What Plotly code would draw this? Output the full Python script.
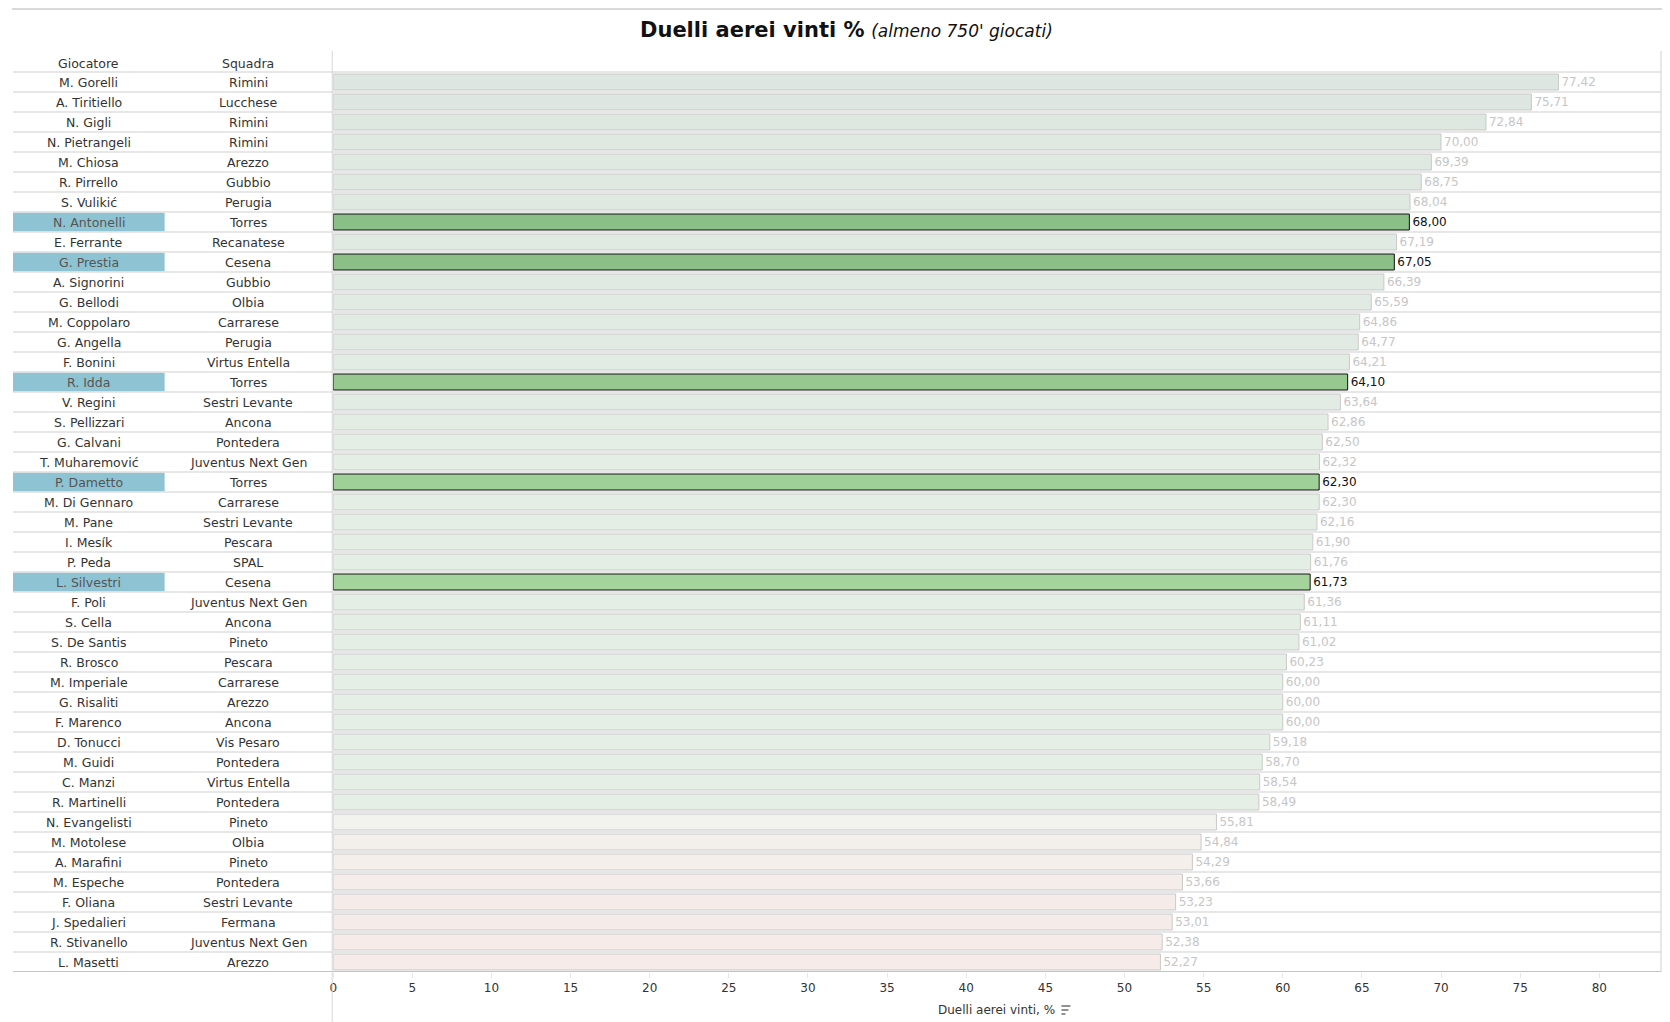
import plotly.graph_objects as go

# ---------------- data ----------------
players = [
    "M. Gorelli", "A. Tiritiello", "N. Gigli", "N. Pietrangeli", "M. Chiosa",
    "R. Pirrello", "S. Vulikić", "N. Antonelli", "E. Ferrante", "G. Prestia",
    "A. Signorini", "G. Bellodi", "M. Coppolaro", "G. Angella", "F. Bonini",
    "R. Idda", "V. Regini", "S. Pellizzari", "G. Calvani", "T. Muharemović",
    "P. Dametto", "M. Di Gennaro", "M. Pane", "I. Mesík", "P. Peda",
    "L. Silvestri", "F. Poli", "S. Cella", "S. De Santis", "R. Brosco",
    "M. Imperiale", "G. Risaliti", "F. Marenco", "D. Tonucci", "M. Guidi",
    "C. Manzi", "R. Martinelli", "N. Evangelisti", "M. Motolese", "A. Marafini",
    "M. Espeche", "F. Oliana", "J. Spedalieri", "R. Stivanello", "L. Masetti",
]
teams = [
    "Rimini", "Lucchese", "Rimini", "Rimini", "Arezzo",
    "Gubbio", "Perugia", "Torres", "Recanatese", "Cesena",
    "Gubbio", "Olbia", "Carrarese", "Perugia", "Virtus Entella",
    "Torres", "Sestri Levante", "Ancona", "Pontedera", "Juventus Next Gen",
    "Torres", "Carrarese", "Sestri Levante", "Pescara", "SPAL",
    "Cesena", "Juventus Next Gen", "Ancona", "Pineto", "Pescara",
    "Carrarese", "Arezzo", "Ancona", "Vis Pesaro", "Pontedera",
    "Virtus Entella", "Pontedera", "Pineto", "Olbia", "Pineto",
    "Pontedera", "Sestri Levante", "Fermana", "Juventus Next Gen", "Arezzo",
]
values = [
    77.42, 75.71, 72.84, 70.00, 69.39,
    68.75, 68.04, 68.00, 67.19, 67.05,
    66.39, 65.59, 64.86, 64.77, 64.21,
    64.10, 63.64, 62.86, 62.50, 62.32,
    62.30, 62.30, 62.16, 61.90, 61.76,
    61.73, 61.36, 61.11, 61.02, 60.23,
    60.00, 60.00, 60.00, 59.18, 58.70,
    58.54, 58.49, 55.81, 54.84, 54.29,
    53.66, 53.23, 53.01, 52.38, 52.27,
]
highlighted = ["N. Antonelli", "G. Prestia", "R. Idda", "P. Dametto", "L. Silvestri"]
x_ticks = [0, 5, 10, 15, 20, 25, 30, 35, 40, 45, 50, 55, 60, 65, 70, 75, 80]
col_headers = ["Giocatore", "Squadra"]

# ---------------- styling helpers ----------------
OFF = 8                      # page body margin of the html page
W, H = 1670 - 2 * OFF, 1022 - OFF
FONT = "DejaVu Sans"
TXT = "#333333"


def px_x(p):
    return (p - OFF) / W


def px_y(p):
    return 1 - (p - OFF) / H


def interp(v, stops):
    stops = sorted(stops)
    if v <= stops[0][0]:
        c = stops[0][1]
    elif v >= stops[-1][0]:
        c = stops[-1][1]
    else:
        for (a, ca), (b, cb) in zip(stops[:-1], stops[1:]):
            if a <= v <= b:
                t = (v - a) / (b - a)
                c = tuple(ca[k] + (cb[k] - ca[k]) * t for k in range(3))
                break
    return "rgb(%d,%d,%d)" % tuple(round(x) for x in c)


faded_stops = [
    (52.0, (246, 234, 232)), (54.0, (244, 238, 235)), (55.8, (242, 242, 238)),
    (58.5, (230, 239, 230)), (62.0, (229, 238, 229)), (68.0, (223, 232, 225)),
    (77.5, (221, 230, 224)),
]
strong_stops = [
    (61.7, (164, 212, 156)), (62.3, (159, 208, 152)), (64.1, (150, 200, 143)),
    (67.0, (139, 191, 135)), (68.0, (138, 191, 136)),
]

n = len(players)
ypos = list(range(n))
is_hl = [p in highlighted for p in players]
bar_colors = [interp(v, strong_stops) if h else interp(v, faded_stops) for v, h in zip(values, is_hl)]
line_colors = ["#111111" if h else "#c9c9c9" for h in is_hl]
label_colors = ["#111111" if h else "#c6c6c6" for h in is_hl]
labels = [("%.2f" % v).replace(".", ",") for v in values]

fig = go.Figure(
    go.Bar(
        x=values, y=ypos, orientation="h", width=0.8,
        marker=dict(color=bar_colors, line=dict(color=line_colors, width=1)),
        text=labels, textposition="outside", constraintext="none",
        textfont=dict(family=FONT, size=12, color=label_colors),
        cliponaxis=False, hoverinfo="skip",
    )
)

x0_dom, x1_dom = px_x(330), min(px_x(1661), 0.9995)
top_row = -1.55
bottom_row = n - 0.5

shapes = []
annotations = []

# highlighted name cells
for i, h in enumerate(is_hl):
    if h:
        shapes.append(dict(type="rect", xref="paper", yref="y", x0=px_x(9), x1=px_x(161),
                           y0=i - 0.46, y1=i + 0.46, fillcolor="#8ec3d3", line=dict(width=0),
                           layer="below"))

# row separators
for k in range(-1, n - 1):
    shapes.append(dict(type="line", xref="paper", yref="y", x0=px_x(9), x1=x1_dom,
                       y0=k + 0.5, y1=k + 0.5, line=dict(color="#cfcfcf", width=1.2)))
shapes.append(dict(type="line", xref="paper", yref="y", x0=px_x(9), x1=x1_dom,
                   y0=bottom_row, y1=bottom_row, line=dict(color="#c4c4c4", width=2.2)))
# vertical lines
shapes.append(dict(type="line", xref="paper", yref="paper", x0=px_x(329), x1=px_x(329),
                   y0=px_y(51), y1=0, line=dict(color="#d6d6d6", width=1)))
shapes.append(dict(type="line", xref="paper", yref="paper", x0=x1_dom, x1=x1_dom,
                   y0=px_y(51), y1=px_y(972), line=dict(color="#d0d0d0", width=1)))
# top border
shapes.append(dict(type="line", xref="paper", yref="paper", x0=0, x1=1,
                   y0=px_y(9), y1=px_y(9), line=dict(color="#d9d9d9", width=2)))
# sort icon next to the axis title
for j, ln in enumerate([9, 7, 4]):
    yy = 1006 + j * 4
    shapes.append(dict(type="line", xref="paper", yref="paper", x0=px_x(1060), x1=px_x(1060 + ln),
                       y0=px_y(yy), y1=px_y(yy), line=dict(color="#555555", width=1.3)))

# table text
col_x = [px_x(85), px_x(245)]
for c, hdr in enumerate(col_headers):
    annotations.append(dict(xref="paper", yref="y", x=col_x[c], y=-0.9, text=hdr, showarrow=False,
                            xanchor="center", yanchor="middle",
                            font=dict(family=FONT, size=12.5, color=TXT)))
for i in range(n):
    annotations.append(dict(xref="paper", yref="y", x=col_x[0], y=i, text=players[i], showarrow=False,
                            xanchor="center", yanchor="middle",
                            font=dict(family=FONT, size=12.5, color="#555555" if is_hl[i] else TXT)))
    annotations.append(dict(xref="paper", yref="y", x=col_x[1], y=i, text=teams[i], showarrow=False,
                            xanchor="center", yanchor="middle",
                            font=dict(family=FONT, size=12.5, color=TXT)))

# title
annotations.append(dict(xref="paper", yref="paper", x=px_x(845), y=px_y(30),
                        text="<b>Duelli aerei vinti %</b> <i><span style='font-size:17px'>(almeno 750' giocati)</span></i>",
                        showarrow=False, xanchor="center", yanchor="middle",
                        font=dict(family=FONT, size=21, color="#111111")))
# axis title
annotations.append(dict(xref="paper", yref="paper", x=px_x(995), y=px_y(1010),
                        text="Duelli aerei vinti, %", showarrow=False, xanchor="center", yanchor="middle",
                        font=dict(family=FONT, size=12, color=TXT)))

fig.update_layout(
    width=W, height=H,
    margin=dict(l=0, r=0, t=0, b=0),
    paper_bgcolor="white", plot_bgcolor="white",
    showlegend=False,
    shapes=shapes, annotations=annotations,
    xaxis=dict(domain=[x0_dom, x1_dom], range=[0, 83.9], tickvals=x_ticks,
               ticktext=[str(t) for t in x_ticks], showgrid=False, zeroline=False, showline=False,
               ticks="outside", ticklen=5, tickcolor="#e6e6e6",
               tickfont=dict(family=FONT, size=12, color=TXT), fixedrange=True),
    yaxis=dict(domain=[px_y(972), px_y(51)], range=[bottom_row, top_row], showticklabels=False,
               showgrid=False, zeroline=False, showline=False, ticks="", fixedrange=True),
)

fig.write_html("out.html")
